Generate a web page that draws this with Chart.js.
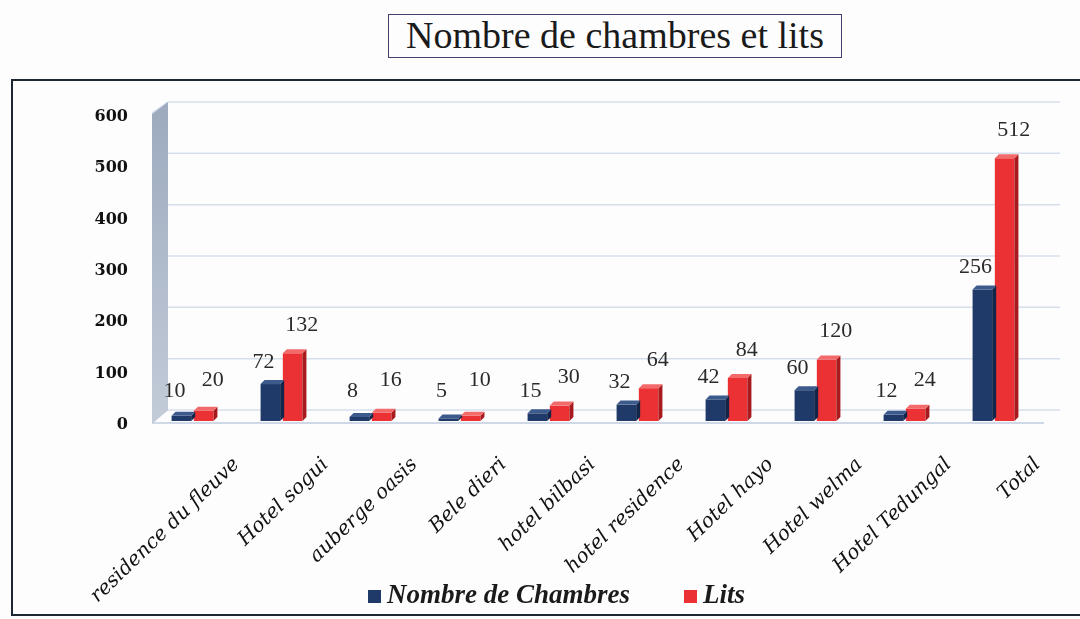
<!DOCTYPE html>
<html>
<head>
<meta charset="utf-8">
<script src="https://cdn.jsdelivr.net/npm/chart.js@4.4.1/dist/chart.umd.min.js"></script>
<style>
  html, body { margin: 0; padding: 0; background: #fdfdfe; width: 1080px; height: 619px; overflow: hidden; }
  #title {
    position: absolute; left: 388px; top: 14px; width: 454px; height: 44px;
    border: 1.5px solid #4a3d6e; box-sizing: border-box;
    font-family: "Liberation Serif", serif; font-size: 38px; line-height: 41px;
    text-align: center; color: #1a1a1a; white-space: nowrap;
  }
  #frame {
    position: absolute; left: 11px; top: 79px; width: 1100px; height: 537px;
    border: 2px solid #1d2733; box-sizing: border-box;
  }
  #wrap { position: absolute; left: 14px; top: 82px; width: 1066px; height: 531px; }
  .leg {
    position: absolute; top: 577px; height: 34px; line-height: 34px;
    font-family: "Liberation Serif", serif; font-size: 27px; font-weight: bold; font-style: italic;
    color: #1a1a1a; white-space: nowrap;
  }
  .sw { display: inline-block; width: 13px; height: 13px; margin-right: 6px; vertical-align: 0px; }
</style>
</head>
<body>
<div id="title">Nombre de chambres et lits</div>
<div id="frame"></div>
<div id="wrap"><canvas id="c" width="1066" height="531"></canvas></div>
<div id="legend"></div>
<script>
const categories = ["residence du fleuve", "Hotel sogui", "auberge oasis", "Bele dieri", "hotel bilbasi",
  "hotel residence", "Hotel hayo", "Hotel welma", "Hotel Tedungal", "Total"];
const chambres = [10, 72, 8, 5, 15, 32, 42, 60, 12, 256];
const lits = [20, 132, 16, 10, 30, 64, 84, 120, 24, 512];
const yTicks = [0, 100, 200, 300, 400, 500, 600];
const seriesNames = ["Nombre de Chambres", "Lits"];

const NAVY = "#1f3a68";
const NAVY_SIDE = "#13264a";
const NAVY_TOP = "#3d5a8c";
const RED = "#ec3134";
const RED_SIDE = "#a81a1e";
const RED_TOP = "#f26a6a";

// HTML legend (real text)
(function () {
  const lg = document.getElementById("legend");
  const spots = [368, 684];
  const cols = [NAVY, RED];
  seriesNames.forEach((n, i) => {
    const d = document.createElement("div");
    d.className = "leg";
    d.style.left = spots[i] + "px";
    d.innerHTML = '<span class="sw" style="background:' + cols[i] + '"></span>' + n;
    lg.appendChild(d);
  });
})();

// 3D back wall, side wall and floor, drawn from the y scale
const wallPlugin = {
  id: "wall",
  beforeDatasetsDraw(chart) {
    const ctx = chart.ctx, y = chart.scales.y, a = chart.chartArea;
    const top = y.getPixelForValue(600), bot = y.getPixelForValue(0);
    const dx = 16, dy = 11;
    const x0 = a.left + 4, x1 = x0 + dx;
    ctx.save();
    ctx.strokeStyle = "#d6dfec";
    ctx.lineWidth = 1.5;
    yTicks.forEach(v => {
      const py = y.getPixelForValue(v) - dy;
      ctx.beginPath(); ctx.moveTo(x1, py); ctx.lineTo(a.right + 22, py); ctx.stroke();
      ctx.beginPath(); ctx.moveTo(x0, py + dy); ctx.lineTo(x1, py); ctx.stroke();
    });
    ctx.strokeStyle = "#cfd8e6";
    ctx.lineWidth = 2;
    ctx.beginPath(); ctx.moveTo(x0, bot + 2); ctx.lineTo(a.right + 6, bot + 2); ctx.stroke();
    const g = ctx.createLinearGradient(0, top, 0, bot);
    g.addColorStop(0, "#9eabbf");
    g.addColorStop(1, "#c3cbd8");
    ctx.fillStyle = g;
    ctx.beginPath();
    ctx.moveTo(x0, top + 1);
    ctx.lineTo(x1, top - dy);
    ctx.lineTo(x1, bot - dy);
    ctx.lineTo(x0, bot + 3);
    ctx.closePath();
    ctx.fill();
    ctx.restore();
  }
};

const bar3dPlugin = {
  id: "bar3d",
  afterDatasetsDraw(chart) {
    const ctx = chart.ctx;
    const d = 4;
    const sets = [[NAVY_SIDE, NAVY_TOP], [RED_SIDE, RED_TOP]];
    ctx.save();
    chart.data.datasets.forEach((ds, di) => {
      const meta = chart.getDatasetMeta(di);
      meta.data.forEach((el) => {
        const { x, y, base, width } = el.getProps(["x", "y", "base", "width"], true);
        const l = x - width / 2, r = x + width / 2;
        ctx.fillStyle = sets[di][0];
        ctx.beginPath();
        ctx.moveTo(r, y); ctx.lineTo(r + d, y - d); ctx.lineTo(r + d, base - d); ctx.lineTo(r, base);
        ctx.closePath(); ctx.fill();
        ctx.fillStyle = sets[di][1];
        ctx.beginPath();
        ctx.moveTo(l, y); ctx.lineTo(l + d, y - d); ctx.lineTo(r + d, y - d); ctx.lineTo(r, y);
        ctx.closePath(); ctx.fill();
      });
    });
    ctx.restore();
  }
};

const labelPlugin = {
  id: "vlabels",
  afterDatasetsDraw(chart) {
    const ctx = chart.ctx;
    ctx.save();
    ctx.font = '22px "Liberation Serif", serif';
    ctx.fillStyle = "#2a2a2a";
    ctx.textAlign = "center";
    ctx.textBaseline = "middle";
    chart.data.datasets.forEach((ds, di) => {
      const meta = chart.getDatasetMeta(di);
      meta.data.forEach((el, i) => {
        const { x, y } = el.getProps(["x", "y"], true);
        let lx, ly;
        if (di === 0) { lx = x - 7; ly = Math.min(y - 22, 309); }
        else { lx = x + 9; ly = Math.min(y - 28, 298); }
        ctx.fillText(String(ds.data[i]), lx, ly);
      });
    });
    ctx.restore();
  }
};

new Chart(document.getElementById("c"), {
  type: "bar",
  data: {
    labels: categories,
    datasets: [
      { label: seriesNames[0], data: chambres, backgroundColor: NAVY, borderWidth: 0 },
      { label: seriesNames[1], data: lits, backgroundColor: RED, borderWidth: 0 }
    ]
  },
  plugins: [wallPlugin, bar3dPlugin, labelPlugin],
  options: {
    responsive: false,
    animation: false,
    layout: { padding: { top: 31, right: 42, left: 0, bottom: 0 } },
    datasets: { bar: { categoryPercentage: 0.5, barPercentage: 0.88 } },
    plugins: {
      tooltip: { enabled: false },
      legend: { display: false }
    },
    scales: {
      x: {
        grid: { display: false, drawTicks: false },
        border: { display: false },
        afterFit(s) { s.height = 192; s.paddingLeft = 0; s.paddingRight = 0; },
        ticks: {
          minRotation: 44, maxRotation: 44, autoSkip: false, labelOffset: 44, padding: 32,
          color: "#111",
          font: { family: '"DejaVu Serif", serif', size: 20, style: "italic" }
        }
      },
      y: {
        min: 0, max: 600,
        afterFit(s) { s.width = 134; },
        afterBuildTicks(s) { s.ticks = yTicks.map(v => ({ value: v })); },
        grid: { display: false, drawTicks: false },
        border: { display: false },
        ticks: {
          padding: 20, labelOffset: 4, color: "#111",
          font: { family: '"DejaVu Serif", serif', size: 16, weight: "bold" }
        }
      }
    }
  }
});
</script>
</body>
</html>
